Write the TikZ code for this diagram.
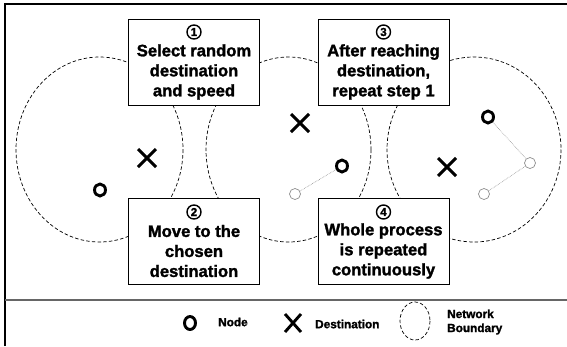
\documentclass[tikz,border=0pt]{standalone}
\usepackage{fontspec}
\setmainfont{Liberation Sans}
\newfontfamily\heavy{Liberation Sans}[BoldFeatures={FakeBold=1.6}]
\usetikzlibrary{shapes.geometric,calc}
\begin{document}
\begin{tikzpicture}[x=1pt,y=-1pt,
  boundary/.style={draw=black, line width=0.7pt, dash pattern=on 3.5pt off 2.2pt},
  stepbox/.style={draw, line width=0.9pt, fill=white, minimum width=131pt, minimum height=86pt, inner sep=0pt},
  steptext/.style={font=\heavy\fontsize{16.6}{20}\selectfont\bfseries, align=center, inner sep=0pt},
  stepnum/.style={draw, circle, line width=1.4pt, minimum size=14pt, inner sep=0pt, font=\heavy\fontsize{11.5}{11.5}\selectfont\bfseries},
  mnode/.style={draw, ellipse, line width=2.9pt, minimum width=11pt, minimum height=12pt, inner sep=0pt},
  ghost/.style={draw=black!45, circle, line width=0.7pt, minimum size=11pt, inner sep=0pt},
  trail/.style={draw=black!45, line width=0.6pt, densely dotted},
  dest/.style={line width=2.9pt},
  legtext/.style={font=\heavy\fontsize{11.8}{14}\selectfont\bfseries, inner sep=0pt, align=left},
]
\useasboundingbox (0,0) rectangle (567,346);
% frame
\draw[line width=1.4pt] (5,346) -- (5,4) -- (567,4);
\draw[black!60, line width=1.2pt] (5,300) -- (567,300);

% network boundaries
\draw[boundary] (99.5,149.5) ellipse [x radius=83.5, y radius=92.5];
\draw[boundary] (288.5,149.5) ellipse [x radius=82.5, y radius=92.5];
\draw[boundary] (474,149.5) ellipse [x radius=87, y radius=92.5];

% boxes
\node[stepbox] (box1) at (194,62) {};
\node[stepbox] (box2) at (194,241.5) {};
\node[stepbox] (box3) at (383.5,62) {};
\node[stepbox] (box4) at (383.5,241.5) {};
\node[stepnum] (n1) at (194,32) {1};
\node[stepnum] (n2) at (194,212) {2};
\node[stepnum] (n3) at (383.5,32) {3};
\node[stepnum] (n4) at (383.5,212) {4};
\node[steptext] (t1) at (194,72) {Select random\\destination\\and speed};
\node[steptext] (t2) at (194,251) {Move to the\\chosen\\destination};
\node[steptext] (t3) at (383.5,72) {After reaching\\destination,\\repeat step 1};
\node[steptext] (t4) at (383.5,251) {Whole process\\is repeated\\continuously};

% left scene
\node[mnode] (o1) at (100,190) {};
\coordinate (x1) at (147,158);
\draw[dest] ($(x1)+(-9,-9)$) -- ($(x1)+(9,9)$) ($(x1)+(-9,9)$) -- ($(x1)+(9,-9)$);

% middle scene
\coordinate (x2) at (300,123);
\draw[dest] ($(x2)+(-9,-9)$) -- ($(x2)+(9,9)$) ($(x2)+(-9,9)$) -- ($(x2)+(9,-9)$);
\node[mnode] (o2) at (342,166) {};
\node[ghost] (g2) at (295,194) {};
\draw[trail] (g2) -- (o2);

% right scene
\coordinate (x3) at (447,167);
\draw[dest] ($(x3)+(-9,-9)$) -- ($(x3)+(9,9)$) ($(x3)+(-9,9)$) -- ($(x3)+(9,-9)$);
\node[mnode] (o3) at (488,117) {};
\node[ghost] (g3a) at (530,163) {};
\node[ghost] (g3b) at (484,194) {};
\draw[trail] (o3) -- (g3a);
\draw[trail] (g3a) -- (g3b);

% legend
\node[mnode, minimum width=11pt, minimum height=13pt] (lo) at (190,323) {};
\node[legtext, anchor=west] (lnode) at (218,322) {Node};
\coordinate (lx) at (293,323);
\draw[dest] ($(lx)+(-8,-9)$) -- ($(lx)+(8,9)$) ($(lx)+(-8,9)$) -- ($(lx)+(8,-9)$);
\node[legtext, anchor=west] (ldest) at (315,324) {Destination};
\draw[boundary] (415,321) ellipse [x radius=15, y radius=19];
\node[legtext, anchor=west] (lbound) at (447,322) {Network\\Boundary};
\end{tikzpicture}
\end{document}
